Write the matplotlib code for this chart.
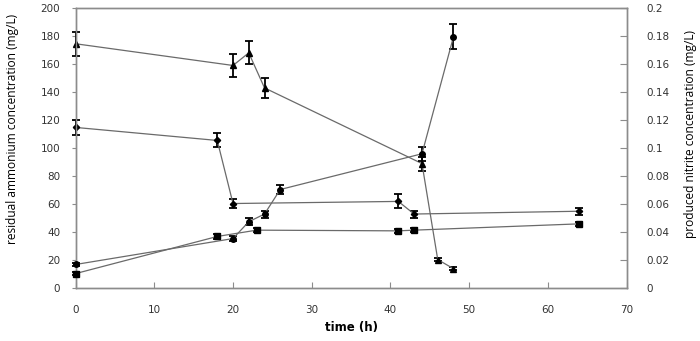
import matplotlib
matplotlib.use("Agg")
import matplotlib.pyplot as plt
from matplotlib.ticker import FuncFormatter

# residual ammonium (left axis, mg/L)
t_amm1 = [0, 20, 22, 24, 44, 46, 48]
amm1 = [174.5, 159, 168, 143, 89, 20.5, 14]
amm1_err = [8.7, 8, 8.2, 7, 5, 1, 1]

t_amm2 = [0, 18, 20, 41, 43, 64]
amm2 = [114.8, 105.5, 60.5, 62, 53, 55]
amm2_err = [5.6, 5, 3, 5, 2.5, 2.5]

# produced nitrite (right axis, mg/L)
t_nit1 = [0, 20, 22, 24, 26, 44, 48]
nit1 = [0.017, 0.0355, 0.0475, 0.053, 0.0705, 0.096, 0.1795]
nit1_err = [0.001, 0.002, 0.0025, 0.0025, 0.003, 0.005, 0.009]

t_nit2 = [0, 18, 23, 41, 43, 64]
nit2 = [0.0105, 0.037, 0.0415, 0.041, 0.0415, 0.046]
nit2_err = [0.001, 0.0015, 0.0015, 0.0015, 0.0015, 0.0015]

LINE = "#6a6a6a"
SPINE = "#8c8c8c"
TXT = "#333333"

fig = plt.figure(figsize=(7, 3.41), dpi=100)
ax = fig.add_axes([0.1079, 0.1545, 0.7874, 0.822])
ax2 = ax.twinx()

def series(a, x, y, e, m, ms):
    cont = a.errorbar(x, y, yerr=e, color=LINE, lw=0.9, marker=m, ms=ms,
                      mfc="black", mec="black", ecolor="black", elinewidth=1.3,
                      capsize=3, capthick=1.3, zorder=3)
    for art in cont.get_children():
        art.set_clip_on(False)

series(ax, t_amm1, amm1, amm1_err, "^", 4.5)
series(ax, t_amm2, amm2, amm2_err, "D", 3.2)
series(ax2, t_nit1, nit1, nit1_err, "o", 4)
series(ax2, t_nit2, nit2, nit2_err, "s", 5)

ax.set_xlim(0, 70)
ax.set_ylim(0, 200)
ax2.set_ylim(0, 0.2)
ax.set_xticks(range(0, 71, 10))
ax.set_yticks(range(0, 201, 20))
ax2.set_yticks([i / 100 for i in range(0, 21, 2)])
ax2.yaxis.set_major_formatter(FuncFormatter(lambda v, p: f"{v:g}"))

for a in (ax, ax2):
    for s in a.spines.values():
        s.set_color(SPINE)
        s.set_linewidth(1.0)
    a.tick_params(colors=SPINE, labelcolor=TXT, labelsize=7.5)

ax.tick_params(axis="y", direction="out", length=3, pad=8)
ax.tick_params(axis="x", direction="in", length=4, pad=12)
ax2.tick_params(axis="y", direction="in", length=5, pad=14)

lab = dict(family="Open Sans", fontsize=8.6, color="black")
ax.set_ylabel("residual ammonium concentration (mg/L)", **lab)
ax2.set_ylabel("produced nitrite concentration (mg/L)", **lab)
ax.yaxis.set_label_coords(-0.1025, 0.57)
ax2.yaxis.set_label_coords(1.104, 0.55)
ax.set_xlabel("time (h)", fontsize=8.5, fontweight="bold", labelpad=4)

fig.savefig("out.png", dpi=100)
